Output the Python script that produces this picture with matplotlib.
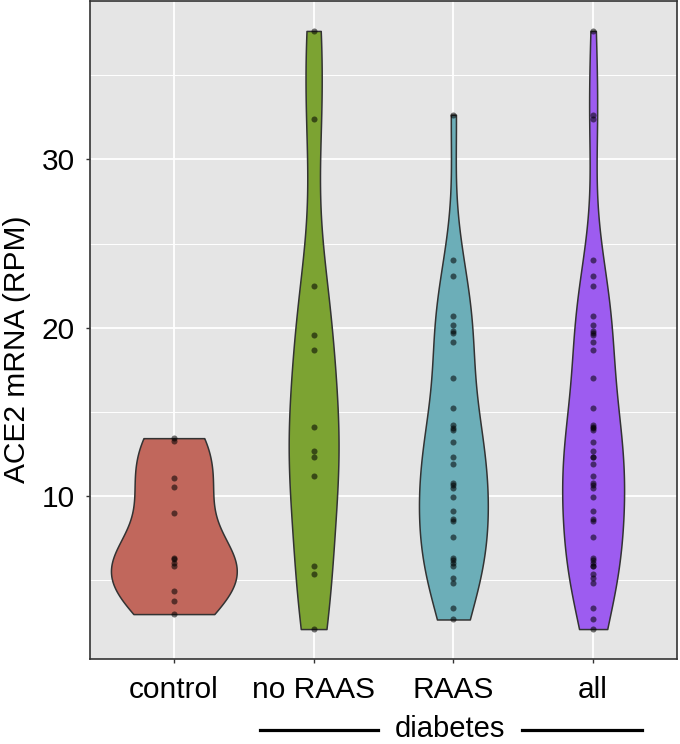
import numpy as np
import matplotlib
matplotlib.use("Agg")
import matplotlib.pyplot as plt
from matplotlib.lines import Line2D

plt.rcParams['font.family'] = ['Liberation Sans', 'DejaVu Sans']

groups = ["control", "no RAAS", "RAAS", "all"]
colors = ["#C1675C", "#7CA332", "#6CAEB8", "#9D5CF0"]

# ACE2 mRNA (RPM) per sample
control = [13.43, 13.28, 11.08, 10.52, 8.96, 6.33, 6.23, 6.03, 5.83, 4.35, 3.72, 2.97]
no_raas = [37.64, 32.38, 22.45, 19.57, 18.68, 14.12, 12.68, 12.33, 11.18, 5.80, 5.34, 2.08]
raas = [32.66, 24.04, 23.05, 20.67, 20.16, 19.78, 19.69, 19.13, 17.0, 15.23,
        14.20, 14.05, 13.91, 13.19, 12.33, 11.91, 10.76, 10.66, 10.49, 9.95,
        9.10, 8.65, 8.51, 7.58, 6.33, 6.17, 6.03, 5.83, 5.14, 4.79, 3.34, 2.65]
# "all" diabetes = both diabetes groups together
all_diab = no_raas + raas

data = [control, no_raas, raas, all_diab]


def bw_nrd0(x):
    x = np.asarray(x)
    sd = np.std(x, ddof=1)
    q75, q25 = np.percentile(x, [75, 25])
    lo = min(sd, (q75 - q25) / 1.34)
    return 0.9 * lo * len(x) ** -0.2


def kde(x, n=512):
    x = np.asarray(x)
    bw = bw_nrd0(x)
    grid = np.linspace(x.min(), x.max(), n)
    z = (grid[:, None] - x[None, :]) / bw
    dens = np.exp(-0.5 * z ** 2).sum(axis=1) / (len(x) * bw * np.sqrt(2 * np.pi))
    return grid, dens


fig = plt.figure(figsize=(6.8, 7.44), dpi=100)
ax = fig.add_axes([90 / 680, 1 - 659 / 744, 587 / 680, 658 / 744])
ax.set_facecolor("#E5E5E5")

curves = [kde(d) for d in data]
dmax = max(c[1].max() for c in curves)

for i, (d, (grid, dens)) in enumerate(zip(data, curves)):
    pos = i + 1
    half = dens / dmax * 0.45
    ax.fill_betweenx(grid, pos - half, pos + half, facecolor=colors[i],
                     edgecolor="#333333", linewidth=1.1, zorder=3)
    ax.scatter(np.full(len(d), pos), d, s=19, color="black", alpha=0.55,
               linewidths=0, zorder=4)

ax.set_xlim(0.4, 4.6)
ax.set_ylim(0.30, 39.42)
ax.set_xticks(range(1, 5))
ax.set_xticklabels(groups)
ax.set_yticks([10, 20, 30])
ax.set_yticks([5, 15, 25, 35], minor=True)

ax.grid(which="major", color="white", linewidth=1.3, zorder=0)
ax.grid(which="minor", axis="y", color="white", linewidth=0.7, zorder=0)
ax.set_axisbelow(True)

for sp in ax.spines.values():
    sp.set_color("#333333")
    sp.set_linewidth(1.2)

ax.tick_params(which="major", length=3, width=1, color="#333333",
               labelsize=21.5, pad=9)
ax.tick_params(which="minor", length=0)
ax.tick_params(axis="y", pad=8)

ax.set_ylabel("ACE2 mRNA (RPM)", fontsize=21.5)
ax.yaxis.set_label_coords(-0.10, 0.47)

# bracket under the diabetes groups
fig.text(450 / 680, 1 - 737 / 744, "diabetes", ha="center", va="baseline", fontsize=21)
fig.add_artist(Line2D([260 / 680, 378 / 680], [1 - 730 / 744] * 2,
                      color="black", linewidth=2.3))
fig.add_artist(Line2D([522 / 680, 642 / 680], [1 - 730 / 744] * 2,
                      color="black", linewidth=2.3))

fig.savefig("out.png", dpi=100)
